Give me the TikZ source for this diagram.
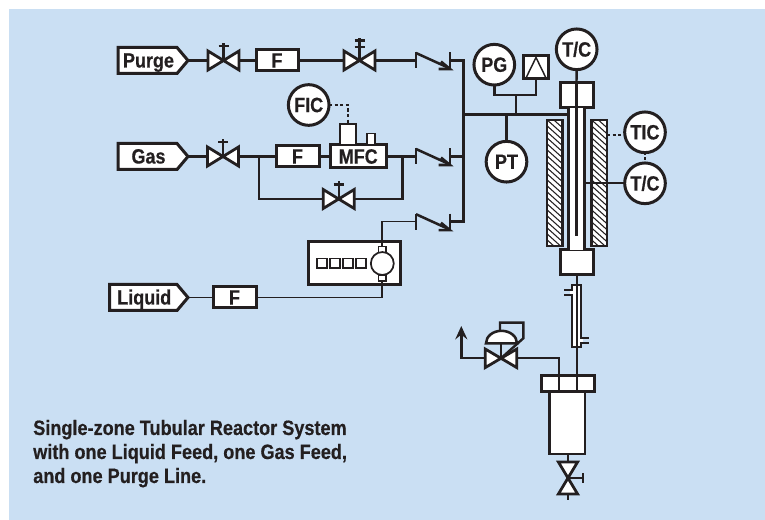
\documentclass[tikz,border=0pt]{standalone}
\usepackage{fontspec}
\setmainfont{Liberation Sans}
\newfontfamily\lblfont{Liberation Sans Bold}[FakeStretch=0.87,FakeBold=0.5]
\usetikzlibrary{arrows.meta}
\definecolor{bgblue}{RGB}{202,223,243}
\definecolor{ink}{RGB}{35,31,32}
\tikzset{
  pipe/.style={draw=ink,line width=1.8pt},
  thinpipe/.style={draw=ink,line width=1.15pt},
  boxs/.style={draw=ink,fill=white,line width=2.25pt,inner sep=0pt,outer sep=0pt,text=ink,font=\lblfont\fontsize{15.5}{15.5}\selectfont},
  thinbox/.style={boxs,line width=1.15pt},
  instr/.style={circle,draw=ink,fill=white,line width=2.25pt,inner sep=0pt,outer sep=0pt,minimum size=30.5pt,text=ink,font=\lblfont\fontsize{15.5}{15.5}\selectfont},
  ghost/.style={inner sep=0pt,outer sep=0pt,rectangle},
  vbody/.style={draw=ink,fill=white,line width=2.1pt,line join=miter},
  sig/.style={draw=ink,line width=1.2pt,dash pattern=on 2.4pt off 1.8pt},
  hatchln/.style={draw=ink,line width=.8pt},
  captxt/.style={anchor=base west,inner sep=0pt,text=ink,font=\lblfont\fontsize{15.6}{15.6}\selectfont},
}
% name, x0, y0, x1, y1, text
\newcommand{\boxn}[7][boxs]{\node[#1,minimum width={(#5-#3)*0.75pt},minimum height={(#6-#4)*0.75pt}] (#2) at ({(#3+#5)/2},{(#4+#6)/2}) {#7};}
% horizontal valve: name, cx, cy, half width, half height
\newcommand{\hvalve}[5]{%
  \node[ghost,minimum width={2*#4*0.75pt},minimum height={2*#5*0.75pt}] (#1) at (#2,#3) {};
  \draw[vbody] (#1.center) -- (#1.north west) -- (#1.south west) -- cycle;
  \draw[vbody] (#1.center) -- (#1.north east) -- (#1.south east) -- cycle;}
% hand wheel: valve name, cx, top y, bar y
\newcommand{\wheel}[4]{%
  \draw[pipe] (#1.center) -- (#2,#3);
  \draw[pipe] (#2-5,#4) -- (#2+5,#4);}
% feed tag: name, x0, y, y half height, text
\newcommand{\feedtag}[5]{%
  \node[ghost,minimum width={(188-#2)*0.75pt},minimum height={2*#4*0.75pt}] (#1) at ({(#2+188)/2},#3) {};
  \draw[vbody,line width=2.25pt] (#1.north west) -- (177,#3-#4) -- (#1.east) -- (177,#3+#4) -- (#1.south west) -- cycle;
  \node[anchor=base,inner sep=0pt,text=ink,font=\lblfont\fontsize{15.5}{15.5}\selectfont] (#1-label) at ({(#2+179)/2},#3+7) {#5};}
% check valve: name, y
\newcommand{\checkv}[2]{%
  \coordinate (#1-a) at (416,#2);
  \coordinate (#1-b) at (450,#2);
  \draw[pipe] (416,#2-8) -- (416,#2+8);
  \draw[pipe] (450,#2-8) -- (450,#2+8.5);
  \draw[pipe,line width=1.9pt] (416,#2-7.5) -- (450,#2+8);
  \draw[pipe,line width=1.9pt,line join=miter] (438.5,#2+8.5) -- (450,#2+8.5) -- (441,#2+1);}
\begin{document}
\begin{tikzpicture}[x=0.75pt,y=-0.75pt]
\useasboundingbox (0,0) rectangle (765,520);
\fill[bgblue] (9,9) rectangle (765,520);

% ---- purge line
\feedtag{purge}{118}{60.5}{13}{Purge}
\hvalve{vp1}{223.5}{60.5}{15.5}{9.5}
\boxn{fp}{256}{50}{298}{71}{F}
\hvalve{vp2}{359.5}{60.5}{15.5}{9.5}
\checkv{cp}{60.5}
\wheel{vp1}{223.5}{43}{46}
\draw[pipe] (vp2.center) -- (359.5,38);
\draw[pipe] (354.5,40.5) -- (364.5,40.5) (354.5,47) -- (364.5,47);
\draw[pipe] (purge.east) -- (vp1.west);
\draw[pipe] (vp1.east) -- (fp.west);
\draw[pipe] (fp.east) -- (vp2.west);
\draw[pipe] (vp2.east) -- (cp-a);

% ---- gas line
\feedtag{gas}{118}{156.5}{13}{Gas}
\hvalve{vg1}{223}{156.5}{15.5}{9.5}
\boxn{fg}{276}{146}{319}{167}{F}
\boxn{mfc}{330}{145}{386.5}{168}{MFC}
\boxn[boxs,line width=1.7pt]{act1}{340}{124}{356}{145}{}
\boxn[boxs,line width=1.3pt]{act2}{367}{133.5}{375}{145}{}
\node[instr] (fic) at (308.7,105) {FIC};
\coordinate (bypa) at (259,156.5);
\coordinate (bypb) at (402.5,156.5);
\hvalve{vg2}{338.7}{199}{15.5}{9.5}
\wheel{vg1}{223}{139}{142}
\wheel{vg2}{338.7}{181.5}{184.5}
\checkv{cg}{156.5}
\draw[pipe] (gas.east) -- (vg1.west);
\draw[pipe] (vg1.east) -- (fg.west);
\draw[pipe] (fg.east) -- (mfc.west);
\draw[pipe] (mfc.east) -- (cg-a);
\draw[pipe] (bypa) |- (vg2.west);
\draw[pipe] (vg2.east) -| (bypb);
\draw[sig] (fic.east) -| (act1.north);

% ---- liquid line
\feedtag{liquid}{109.5}{297.5}{13}{Liquid}
\boxn{fl}{213}{287}{256}{308}{F}
\boxn[boxs]{pump}{308}{242}{400}{285}{}
\foreach \nm/\xa in {a/317,b/330,c/343,d/356}{
  \boxn[thinbox]{pk\nm}{\xa}{258.5}{\xa+10}{268}{}
}
\boxn[thinbox]{pin}{378.5}{275}{386}{281}{}
\boxn[thinbox]{pout}{378.5}{246.5}{386}{252.5}{}
\node[circle,draw=ink,fill=white,line width=1.3pt,inner sep=0pt,outer sep=0pt,minimum size=17.2pt] (motor) at (382.3,263.5) {};
\checkv{cl}{221.7}
\draw[thinpipe] (liquid.east) -- (fl.west);
\draw[thinpipe] (fl.east) -| (pin.south);
\draw[thinpipe] (pout.north) |- (cl-a);

% ---- header
\coordinate (hta) at (463.5,60.5);
\coordinate (htb) at (463.5,221.7);
\coordinate (hmid) at (463.5,114.7);
\coordinate (tubeport) at (568.5,114.7);
\draw[pipe] (cp-b) -- (hta) -- (htb) -- (cl-b);
\draw[pipe] (cg-b) -- (463.5,156.5);

% ---- instruments
\node[instr] (pg) at (494.3,64.7) {PG};
\boxn[boxs]{sw}{523.5}{55.5}{548}{79}{}
\draw[draw=ink,line width=1.1pt] (526,78) -- (536,57.5) -- (546,78);
\node[instr] (pt) at (506.5,161.7) {PT};
\coordinate (pgj) at (516,95);
\coordinate (pgh) at (516,114.7);
\coordinate (pth) at (506.5,114.7);
\draw[pipe] (pg.south) |- (pgj) -| (sw.south);
\draw[pipe] (pgj) -- (pgh);
\draw[pipe] (pth) -- (pt.north);

% ---- reactor
\node[instr] (tctop) at (576.7,49.3) {T/C};
\boxn{rtop}{560}{82.5}{593}{108}{}
\boxn{rbot}{560}{250}{593}{275}{}
\fill[white] (568.5,108) rectangle (584.7,250);
\draw[pipe,line width=2pt] (568.5,108) -- (568.5,250) (584.7,108) -- (584.7,250);
\draw[pipe,line width=2pt] (576.6,82.5) -- (576.6,236.5);
\draw[pipe] (tctop.south) -- (rtop.north);
\draw[pipe] (hmid) -- (tubeport);
\foreach \xa/\nm in {547/fl,591.5/fr}{
  \boxn[boxs,draw=none]{furn\nm}{\xa}{120}{\xa+15.5}{246}{}
  \begin{scope}
    \clip (\xa,120) rectangle (\xa+15.5,246);
    \foreach \k in {0,...,24}{
      \draw[hatchln] (\xa-2,112+6*\k) -- (\xa+18,130+6*\k);
    }
  \end{scope}
  \draw[draw=ink,line width=2.1pt] (furn\nm.north west) rectangle (furn\nm.south east);
}
\node[instr] (tic) at (645,132.3) {TIC};
\node[instr] (tcr) at (645,183.3) {T/C};
\coordinate (thermo) at (584.7,183.3);
\draw[pipe] (thermo) -- (tcr.west);
\draw[sig,line width=1.5pt] (furnfr.east |- 0,135) -- (tic.west |- 0,135);
\draw[sig,line width=1.5pt,dash pattern=on 2pt off 1.5pt] (tic.south) -- (tcr.north);

% ---- effluent
\boxn{sep}{541}{375.5}{594}{392}{}
\boxn[boxs,line width=2pt]{vessel}{549.5}{392}{585}{454}{}
\coordinate (septa) at (559,375.5);
\coordinate (septb) at (559,392);
\draw[pipe] (septa) -- (septb);
\draw[pipe] (576.7,375.5) -- (576.7,392);
\boxn[boxs,line width=1.3pt]{cool}{572.3}{285}{581.3}{347.3}{}
\draw[thinpipe] (564,290) -- (572.3,290) (564,295) -- (572.3,295) (581.3,338) -- (589,338) (581.3,343) -- (589,343);
\fill[white] (570,291) rectangle (573.5,294);
\fill[white] (580,339) rectangle (583,342);
\draw[pipe] (576.7,275) -- (576.7,375.5);
% drain valve
\node[ghost,minimum width=14.4pt,minimum height=24pt] (vd) at (568,478) {};
\draw[vbody] (vd.center) -- (vd.north west) -- (vd.north east) -- cycle;
\draw[vbody] (vd.center) -- (vd.south west) -- (vd.south east) -- cycle;
\coordinate (drainend) at (568,500);
\coordinate (vdwheel) at (582.7,478);
\draw[pipe] (vessel.south -| vd.north) -- (vd.north);
\draw[pipe] (vd.south) -- (drainend);
\draw[pipe] (vd.center) -- (vdwheel);
\draw[pipe] (582.7,473) -- (582.7,483);
% control valve
\hvalve{cv}{501}{358.3}{15.8}{9.3}
\coordinate (vent) at (461.3,326);
\coordinate (cvr) at (559,358.3);
\draw[pipe] (cv.east) -- (cvr) -- (septa);
\draw[pipe,-{Stealth[length=10pt,width=9pt,inset=3.5pt]}] (cv.west) -| (vent);
\draw[pipe] (cv.center) -- (501,343.3);
\filldraw[fill=white,draw=ink,line width=1.9pt] (486,343.3) arc[start angle=180,end angle=360,x radius=15.5,y radius=12.5] -- cycle;
\draw[pipe,line join=miter] (500,331) -- (500,322.7) -- (523.3,322.7) -- (523.3,338.3) -- (cv.center);

% ---- caption
\node[captxt] (cap1) at (33,435) {Single-zone Tubular Reactor System};
\node[captxt] (cap2) at (33,459) {with one Liquid Feed, one Gas Feed,};
\node[captxt] (cap3) at (33,483) {and one Purge Line.};
\end{tikzpicture}
\end{document}
